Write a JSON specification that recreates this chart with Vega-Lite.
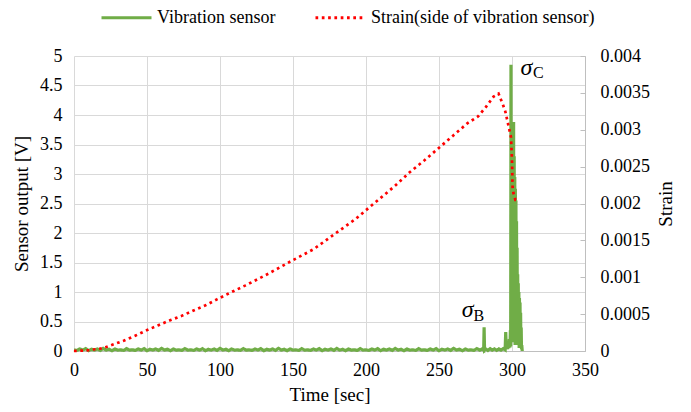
{
  "$schema": "https://vega.github.io/schema/vega-lite/v6.json",
  "width": 511,
  "height": 295,
  "autosize": {"type": "none"},
  "padding": {"left": 74, "top": 56, "right": 106, "bottom": 61},
  "background": "white",
  "config": {
    "font": "Liberation Serif, Times New Roman, DejaVu Serif, serif",
    "view": {"stroke": null},
    "text": {"font": "Liberation Serif, Times New Roman, DejaVu Serif, serif"},
    "axis": {
      "labelFont": "Liberation Serif, Times New Roman, DejaVu Serif, serif",
      "titleFont": "Liberation Serif, Times New Roman, DejaVu Serif, serif",
      "labelFontSize": 18,
      "titleFontSize": 19,
      "titleFontWeight": "normal",
      "labelColor": "#000000",
      "titleColor": "#000000",
      "gridColor": "#d9d9d9",
      "gridWidth": 1,
      "domainColor": "#bfbfbf",
      "tickColor": "#bfbfbf",
      "labelOverlap": false,
      "labelFlush": false
    },
    "legend": {
      "labelFont": "Liberation Serif, Times New Roman, DejaVu Serif, serif",
      "labelFontSize": 18,
      "labelColor": "#000000",
      "labelLimit": 500
    }
  },
  "datasets": {
    "vib": [
      {"t":0,"v":0.02,"series":"Vibration sensor"},{"t":2,"v":0.01,"series":"Vibration sensor"},{"t":4,"v":0.035,"series":"Vibration sensor"},{"t":6,"v":0.015,"series":"Vibration sensor"},{"t":8,"v":0.04,"series":"Vibration sensor"},{"t":10,"v":0.005,"series":"Vibration sensor"},{"t":12,"v":0.03,"series":"Vibration sensor"},{"t":14,"v":0.015,"series":"Vibration sensor"},{"t":16,"v":0.035,"series":"Vibration sensor"},{"t":18,"v":0.01,"series":"Vibration sensor"},
      {"t":20,"v":0.045,"series":"Vibration sensor"},{"t":22,"v":0.015,"series":"Vibration sensor"},{"t":24,"v":0.03,"series":"Vibration sensor"},{"t":26,"v":0.005,"series":"Vibration sensor"},{"t":28,"v":0.035,"series":"Vibration sensor"},{"t":30,"v":0.015,"series":"Vibration sensor"},{"t":32,"v":0.02,"series":"Vibration sensor"},{"t":34,"v":0.01,"series":"Vibration sensor"},{"t":36,"v":0.04,"series":"Vibration sensor"},{"t":38,"v":0.015,"series":"Vibration sensor"},
      {"t":40,"v":0.02,"series":"Vibration sensor"},{"t":42,"v":0.01,"series":"Vibration sensor"},{"t":44,"v":0.035,"series":"Vibration sensor"},{"t":46,"v":0.015,"series":"Vibration sensor"},{"t":48,"v":0.04,"series":"Vibration sensor"},{"t":50,"v":0.005,"series":"Vibration sensor"},{"t":52,"v":0.03,"series":"Vibration sensor"},{"t":54,"v":0.015,"series":"Vibration sensor"},{"t":56,"v":0.035,"series":"Vibration sensor"},{"t":58,"v":0.01,"series":"Vibration sensor"},
      {"t":60,"v":0.045,"series":"Vibration sensor"},{"t":62,"v":0.015,"series":"Vibration sensor"},{"t":64,"v":0.03,"series":"Vibration sensor"},{"t":66,"v":0.005,"series":"Vibration sensor"},{"t":68,"v":0.035,"series":"Vibration sensor"},{"t":70,"v":0.015,"series":"Vibration sensor"},{"t":72,"v":0.02,"series":"Vibration sensor"},{"t":74,"v":0.01,"series":"Vibration sensor"},{"t":76,"v":0.04,"series":"Vibration sensor"},{"t":78,"v":0.015,"series":"Vibration sensor"},
      {"t":80,"v":0.02,"series":"Vibration sensor"},{"t":82,"v":0.01,"series":"Vibration sensor"},{"t":84,"v":0.035,"series":"Vibration sensor"},{"t":86,"v":0.015,"series":"Vibration sensor"},{"t":88,"v":0.04,"series":"Vibration sensor"},{"t":90,"v":0.005,"series":"Vibration sensor"},{"t":92,"v":0.03,"series":"Vibration sensor"},{"t":94,"v":0.015,"series":"Vibration sensor"},{"t":96,"v":0.035,"series":"Vibration sensor"},{"t":98,"v":0.01,"series":"Vibration sensor"},
      {"t":100,"v":0.045,"series":"Vibration sensor"},{"t":102,"v":0.015,"series":"Vibration sensor"},{"t":104,"v":0.03,"series":"Vibration sensor"},{"t":106,"v":0.005,"series":"Vibration sensor"},{"t":108,"v":0.035,"series":"Vibration sensor"},{"t":110,"v":0.015,"series":"Vibration sensor"},{"t":112,"v":0.02,"series":"Vibration sensor"},{"t":114,"v":0.01,"series":"Vibration sensor"},{"t":116,"v":0.04,"series":"Vibration sensor"},{"t":118,"v":0.015,"series":"Vibration sensor"},
      {"t":120,"v":0.02,"series":"Vibration sensor"},{"t":122,"v":0.01,"series":"Vibration sensor"},{"t":124,"v":0.035,"series":"Vibration sensor"},{"t":126,"v":0.015,"series":"Vibration sensor"},{"t":128,"v":0.04,"series":"Vibration sensor"},{"t":130,"v":0.005,"series":"Vibration sensor"},{"t":132,"v":0.03,"series":"Vibration sensor"},{"t":134,"v":0.015,"series":"Vibration sensor"},{"t":136,"v":0.035,"series":"Vibration sensor"},{"t":138,"v":0.01,"series":"Vibration sensor"},
      {"t":140,"v":0.045,"series":"Vibration sensor"},{"t":142,"v":0.015,"series":"Vibration sensor"},{"t":144,"v":0.03,"series":"Vibration sensor"},{"t":146,"v":0.005,"series":"Vibration sensor"},{"t":148,"v":0.035,"series":"Vibration sensor"},{"t":150,"v":0.015,"series":"Vibration sensor"},{"t":152,"v":0.02,"series":"Vibration sensor"},{"t":154,"v":0.01,"series":"Vibration sensor"},{"t":156,"v":0.04,"series":"Vibration sensor"},{"t":158,"v":0.015,"series":"Vibration sensor"},
      {"t":160,"v":0.02,"series":"Vibration sensor"},{"t":162,"v":0.01,"series":"Vibration sensor"},{"t":164,"v":0.035,"series":"Vibration sensor"},{"t":166,"v":0.015,"series":"Vibration sensor"},{"t":168,"v":0.04,"series":"Vibration sensor"},{"t":170,"v":0.005,"series":"Vibration sensor"},{"t":172,"v":0.03,"series":"Vibration sensor"},{"t":174,"v":0.015,"series":"Vibration sensor"},{"t":176,"v":0.035,"series":"Vibration sensor"},{"t":178,"v":0.01,"series":"Vibration sensor"},
      {"t":180,"v":0.045,"series":"Vibration sensor"},{"t":182,"v":0.015,"series":"Vibration sensor"},{"t":184,"v":0.03,"series":"Vibration sensor"},{"t":186,"v":0.005,"series":"Vibration sensor"},{"t":188,"v":0.035,"series":"Vibration sensor"},{"t":190,"v":0.015,"series":"Vibration sensor"},{"t":192,"v":0.02,"series":"Vibration sensor"},{"t":194,"v":0.01,"series":"Vibration sensor"},{"t":196,"v":0.04,"series":"Vibration sensor"},{"t":198,"v":0.015,"series":"Vibration sensor"},
      {"t":200,"v":0.02,"series":"Vibration sensor"},{"t":202,"v":0.01,"series":"Vibration sensor"},{"t":204,"v":0.035,"series":"Vibration sensor"},{"t":206,"v":0.015,"series":"Vibration sensor"},{"t":208,"v":0.04,"series":"Vibration sensor"},{"t":210,"v":0.005,"series":"Vibration sensor"},{"t":212,"v":0.03,"series":"Vibration sensor"},{"t":214,"v":0.015,"series":"Vibration sensor"},{"t":216,"v":0.035,"series":"Vibration sensor"},{"t":218,"v":0.01,"series":"Vibration sensor"},
      {"t":220,"v":0.045,"series":"Vibration sensor"},{"t":222,"v":0.015,"series":"Vibration sensor"},{"t":224,"v":0.03,"series":"Vibration sensor"},{"t":226,"v":0.005,"series":"Vibration sensor"},{"t":228,"v":0.035,"series":"Vibration sensor"},{"t":230,"v":0.015,"series":"Vibration sensor"},{"t":232,"v":0.02,"series":"Vibration sensor"},{"t":234,"v":0.01,"series":"Vibration sensor"},{"t":236,"v":0.04,"series":"Vibration sensor"},{"t":238,"v":0.015,"series":"Vibration sensor"},
      {"t":240,"v":0.02,"series":"Vibration sensor"},{"t":242,"v":0.01,"series":"Vibration sensor"},{"t":244,"v":0.035,"series":"Vibration sensor"},{"t":246,"v":0.015,"series":"Vibration sensor"},{"t":248,"v":0.04,"series":"Vibration sensor"},{"t":250,"v":0.005,"series":"Vibration sensor"},{"t":252,"v":0.03,"series":"Vibration sensor"},{"t":254,"v":0.015,"series":"Vibration sensor"},{"t":256,"v":0.035,"series":"Vibration sensor"},{"t":258,"v":0.01,"series":"Vibration sensor"},
      {"t":260,"v":0.045,"series":"Vibration sensor"},{"t":262,"v":0.015,"series":"Vibration sensor"},{"t":264,"v":0.03,"series":"Vibration sensor"},{"t":266,"v":0.005,"series":"Vibration sensor"},{"t":268,"v":0.035,"series":"Vibration sensor"},{"t":270,"v":0.015,"series":"Vibration sensor"},{"t":272,"v":0.02,"series":"Vibration sensor"},{"t":274,"v":0.01,"series":"Vibration sensor"},{"t":276,"v":0.04,"series":"Vibration sensor"},{"t":278,"v":0.015,"series":"Vibration sensor"},
      {"t":279.5,"v":0.035,"series":"Vibration sensor"},{"t":280.6,"v":0.015,"series":"Vibration sensor"},{"t":280.9,"v":0.4,"series":"Vibration sensor"},{"t":281.2,"v":0.015,"series":"Vibration sensor"},{"t":282,"v":0.035,"series":"Vibration sensor"},{"t":283.5,"v":0.01,"series":"Vibration sensor"},{"t":285,"v":0.04,"series":"Vibration sensor"},{"t":286.5,"v":0.015,"series":"Vibration sensor"},{"t":288,"v":0.035,"series":"Vibration sensor"},{"t":289.5,"v":0.01,"series":"Vibration sensor"},
      {"t":291,"v":0.035,"series":"Vibration sensor"},{"t":292.5,"v":0.015,"series":"Vibration sensor"},{"t":294,"v":0.04,"series":"Vibration sensor"},{"t":295.3,"v":0.02,"series":"Vibration sensor"},{"t":295.7,"v":0.32,"series":"Vibration sensor"},{"t":296.1,"v":0.04,"series":"Vibration sensor"},{"t":296.6,"v":0.12,"series":"Vibration sensor"},{"t":297,"v":0.03,"series":"Vibration sensor"},{"t":297.4,"v":0.15,"series":"Vibration sensor"},{"t":297.8,"v":0.05,"series":"Vibration sensor"},
      {"t":298.2,"v":0.2,"series":"Vibration sensor"},{"t":298.6,"v":0.06,"series":"Vibration sensor"},{"t":298.9,"v":0.35,"series":"Vibration sensor"},{"t":299.1,"v":0.08,"series":"Vibration sensor"},{"t":299.3,"v":4.85,"series":"Vibration sensor"},{"t":299.5,"v":0.15,"series":"Vibration sensor"},{"t":299.7,"v":3.3,"series":"Vibration sensor"},{"t":299.9,"v":0.25,"series":"Vibration sensor"},{"t":300.1,"v":3.6,"series":"Vibration sensor"},{"t":300.3,"v":0.2,"series":"Vibration sensor"},
      {"t":300.5,"v":3.75,"series":"Vibration sensor"},{"t":300.7,"v":0.3,"series":"Vibration sensor"},{"t":300.9,"v":3.8,"series":"Vibration sensor"},{"t":301.1,"v":3.88,"series":"Vibration sensor"},{"t":301.3,"v":0.2,"series":"Vibration sensor"},{"t":301.5,"v":3.3,"series":"Vibration sensor"},{"t":301.7,"v":0.15,"series":"Vibration sensor"},{"t":301.9,"v":2.95,"series":"Vibration sensor"},{"t":302.1,"v":0.1,"series":"Vibration sensor"},{"t":302.3,"v":2.75,"series":"Vibration sensor"},
      {"t":302.5,"v":0.2,"series":"Vibration sensor"},{"t":302.7,"v":2.55,"series":"Vibration sensor"},{"t":302.9,"v":0.1,"series":"Vibration sensor"},{"t":303.1,"v":2.2,"series":"Vibration sensor"},{"t":303.3,"v":0.15,"series":"Vibration sensor"},{"t":303.5,"v":1.75,"series":"Vibration sensor"},{"t":303.7,"v":0.1,"series":"Vibration sensor"},{"t":303.9,"v":1.3,"series":"Vibration sensor"},{"t":304.1,"v":0.1,"series":"Vibration sensor"},{"t":304.3,"v":1.15,"series":"Vibration sensor"},
      {"t":304.5,"v":0.1,"series":"Vibration sensor"},{"t":304.7,"v":1.0,"series":"Vibration sensor"},{"t":304.9,"v":0.05,"series":"Vibration sensor"},{"t":305.1,"v":0.9,"series":"Vibration sensor"},{"t":305.3,"v":0.05,"series":"Vibration sensor"},{"t":305.5,"v":0.82,"series":"Vibration sensor"},{"t":305.7,"v":0.05,"series":"Vibration sensor"},{"t":305.9,"v":0.65,"series":"Vibration sensor"},{"t":306.1,"v":0.05,"series":"Vibration sensor"},{"t":306.3,"v":0.4,"series":"Vibration sensor"},
      {"t":306.5,"v":0.03,"series":"Vibration sensor"},{"t":306.7,"v":0.1,"series":"Vibration sensor"},{"t":307,"v":0.0,"series":"Vibration sensor"}
    ],
    "strain": [
      {"t":0,"s":0,"series":"Strain(side of vibration sensor)"},
      {"t":5,"s":0.000005,"series":"Strain(side of vibration sensor)"},
      {"t":10,"s":0.00001,"series":"Strain(side of vibration sensor)"},
      {"t":13,"s":0.00002,"series":"Strain(side of vibration sensor)"},
      {"t":17.5,"s":0.00003,"series":"Strain(side of vibration sensor)"},
      {"t":21.6,"s":0.00005,"series":"Strain(side of vibration sensor)"},
      {"t":25.8,"s":0.00008,"series":"Strain(side of vibration sensor)"},
      {"t":34,"s":0.00014,"series":"Strain(side of vibration sensor)"},
      {"t":42.2,"s":0.00021,"series":"Strain(side of vibration sensor)"},
      {"t":49.7,"s":0.00028,"series":"Strain(side of vibration sensor)"},
      {"t":57.9,"s":0.00035,"series":"Strain(side of vibration sensor)"},
      {"t":66.2,"s":0.00042,"series":"Strain(side of vibration sensor)"},
      {"t":74.2,"s":0.00048,"series":"Strain(side of vibration sensor)"},
      {"t":81.9,"s":0.00055,"series":"Strain(side of vibration sensor)"},
      {"t":90.1,"s":0.00062,"series":"Strain(side of vibration sensor)"},
      {"t":97.9,"s":0.0007,"series":"Strain(side of vibration sensor)"},
      {"t":105.9,"s":0.00078,"series":"Strain(side of vibration sensor)"},
      {"t":117.5,"s":0.00089,"series":"Strain(side of vibration sensor)"},
      {"t":133.3,"s":0.00105,"series":"Strain(side of vibration sensor)"},
      {"t":148.8,"s":0.00122,"series":"Strain(side of vibration sensor)"},
      {"t":164.1,"s":0.00138,"series":"Strain(side of vibration sensor)"},
      {"t":178.8,"s":0.00159,"series":"Strain(side of vibration sensor)"},
      {"t":192.9,"s":0.00179,"series":"Strain(side of vibration sensor)"},
      {"t":200,"s":0.00191,"series":"Strain(side of vibration sensor)"},
      {"t":210.3,"s":0.00208,"series":"Strain(side of vibration sensor)"},
      {"t":219.9,"s":0.00224,"series":"Strain(side of vibration sensor)"},
      {"t":229.7,"s":0.00242,"series":"Strain(side of vibration sensor)"},
      {"t":239.7,"s":0.00258,"series":"Strain(side of vibration sensor)"},
      {"t":249.7,"s":0.00275,"series":"Strain(side of vibration sensor)"},
      {"t":259.6,"s":0.00292,"series":"Strain(side of vibration sensor)"},
      {"t":269.6,"s":0.00309,"series":"Strain(side of vibration sensor)"},
      {"t":276.7,"s":0.00318,"series":"Strain(side of vibration sensor)"},
      {"t":282.2,"s":0.00331,"series":"Strain(side of vibration sensor)"},
      {"t":287.4,"s":0.00345,"series":"Strain(side of vibration sensor)"},
      {"t":290.8,"s":0.00349,"series":"Strain(side of vibration sensor)"},
      {"t":293.8,"s":0.00334,"series":"Strain(side of vibration sensor)"},
      {"t":295.4,"s":0.00325,"series":"Strain(side of vibration sensor)"},
      {"t":297.3,"s":0.00308,"series":"Strain(side of vibration sensor)"},
      {"t":299.3,"s":0.0029,"series":"Strain(side of vibration sensor)"},
      {"t":300,"s":0.00259,"series":"Strain(side of vibration sensor)"},
      {"t":300.4,"s":0.00222,"series":"Strain(side of vibration sensor)"},
      {"t":301,"s":0.00214,"series":"Strain(side of vibration sensor)"},
      {"t":302.3,"s":0.00205,"series":"Strain(side of vibration sensor)"},
      {"t":305.2,"s":0.00205,"series":"Strain(side of vibration sensor)"}
    ],
    "notes": [
      {"t":269.7,"v":0.69,"txt":"σ","part":"main"},
      {"t":277.3,"v":0.59,"txt":"B","part":"sub"},
      {"t":309.8,"v":4.79,"txt":"σ","part":"main"},
      {"t":318,"v":4.71,"txt":"C","part":"sub"}
    ]
  },
  "layer": [
    {
      "encoding": {
        "x": {"field": "t", "type": "quantitative", "scale": {"domain": [0, 350], "nice": false},
          "axis": {"values": [0,50,100,150,200,250,300,350], "grid": true, "ticks": false, "labelPadding": 10, "title": "Time [sec]", "titlePadding": 6, "domain": true}},
        "y": {"field": "v", "type": "quantitative", "scale": {"domain": [0, 5], "nice": false},
          "axis": {"values": [0,0.5,1,1.5,2,2.5,3,3.5,4,4.5,5], "format": ".1~f", "grid": true, "ticks": false, "domain": false, "labelPadding": 12, "title": "Sensor output [V]", "titlePadding": 8}}
      },
      "layer": [
        {
          "data": {"name": "vib"},
          "mark": {"type": "line", "strokeWidth": 3.2},
          "encoding": {
            "color": {"field": "series", "type": "nominal",
              "scale": {"domain": ["Vibration sensor", "Strain(side of vibration sensor)"], "range": ["#70AD47", "#FF0000"]},
              "legend": {"title": null, "orient": "none", "legendX": 26, "legendY": -65, "direction": "horizontal", "symbolType": "stroke", "symbolSize": 2500, "symbolStrokeWidth": 3, "columnPadding": 33, "labelOffset": 4}},
            "strokeDash": {"field": "series", "type": "nominal",
              "scale": {"domain": ["Vibration sensor", "Strain(side of vibration sensor)"], "range": [[1, 0], [2.7, 3.6]]},
              "legend": {"title": null, "orient": "none", "legendX": 26, "legendY": -65, "direction": "horizontal", "symbolType": "stroke", "symbolSize": 2500, "symbolStrokeWidth": 3, "columnPadding": 33, "labelOffset": 4}}
          }
        },
        {
          "data": {"name": "notes"},
          "transform": [{"filter": "datum.part == 'main'"}],
          "mark": {"type": "text", "font": "Liberation Serif, Times New Roman, DejaVu Serif, serif", "fontStyle": "italic", "fontSize": 24, "align": "center", "baseline": "middle", "color": "#000000"},
          "encoding": {"text": {"field": "txt"}}
        },
        {
          "data": {"name": "notes"},
          "transform": [{"filter": "datum.part == 'sub'"}],
          "mark": {"type": "text", "font": "Liberation Serif, Times New Roman, DejaVu Serif, serif", "fontSize": 16, "align": "center", "baseline": "middle", "color": "#000000"},
          "encoding": {"text": {"field": "txt"}}
        }
      ]
    },
    {
      "data": {"name": "strain"},
      "mark": {"type": "line", "strokeWidth": 2.7},
      "encoding": {
        "x": {"field": "t", "type": "quantitative"},
        "y": {"field": "s", "type": "quantitative", "scale": {"domain": [0, 0.004], "nice": false},
          "axis": {"orient": "right", "values": [0,0.0005,0.001,0.0015,0.002,0.0025,0.003,0.0035,0.004], "format": ".4~f", "grid": false, "ticks": true, "tickSize": -5, "domain": true, "labelPadding": 20, "title": "Strain", "titleAngle": -90, "titlePadding": 26}},
        "color": {"field": "series", "type": "nominal"},
        "strokeDash": {"field": "series", "type": "nominal"}
      }
    }
  ],
  "resolve": {"scale": {"y": "independent"}}
}
